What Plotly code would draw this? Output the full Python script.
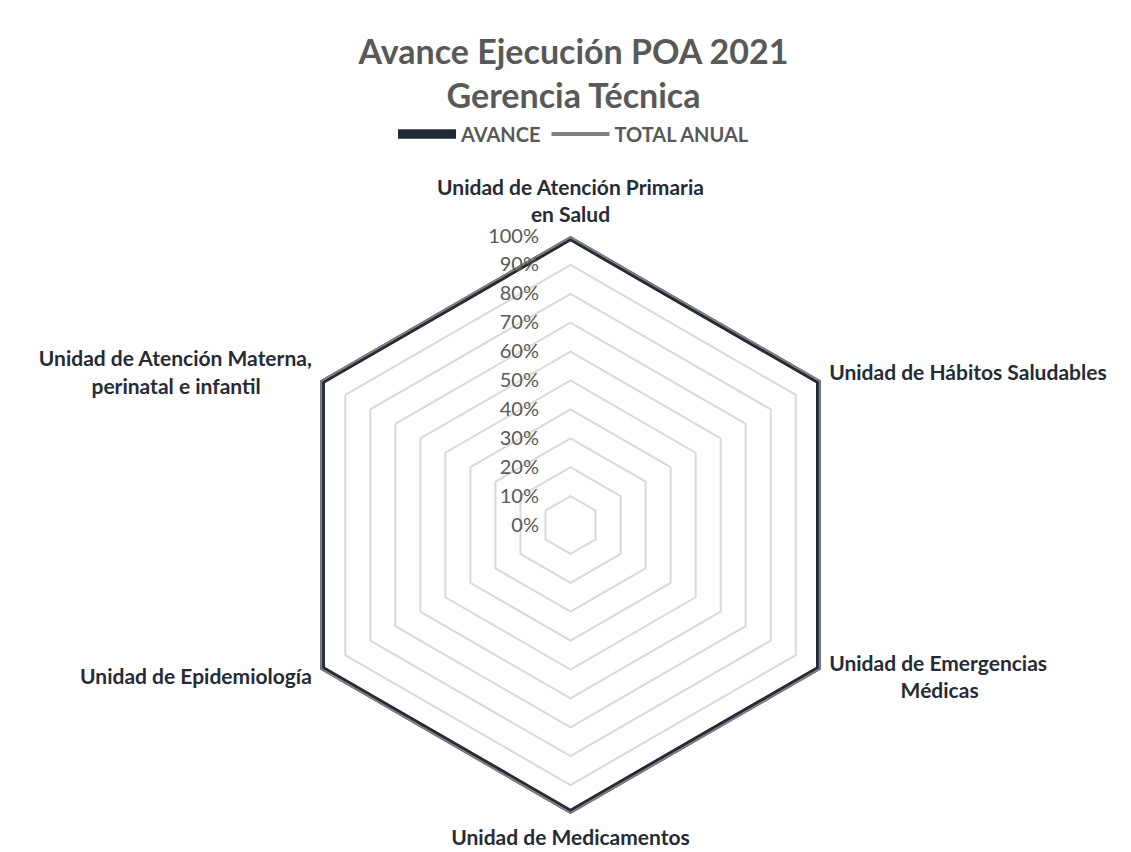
import plotly.graph_objects as go

# categorias del radar (sentido horario desde arriba)
nb = "&nbsp;"
unidades = [
    "Unidad de Atención Primaria<br>en Salud",
    "Unidad de Hábitos Saludables",
    "Unidad de Emergencias<br>" + nb * 14 + "Médicas<br> <br> ",
    "Unidad de Medicamentos",
    "Unidad de Epidemiología<br> ",
    " <br>Unidad de Atención Materna,<br>perinatal e infantil" + nb * 10,
]
avance = [1.0, 1.0, 1.0, 1.0, 1.0, 1.0]
total_anual = [1.0, 1.0, 1.0, 1.0, 1.0, 1.0]

ticks_r = [0, 0.1, 0.2, 0.3, 0.4, 0.5, 0.6, 0.7, 0.8, 0.9, 1.0]
ticks_txt = ["0%", "10%", "20%", "30%", "40%", "50%", "60%", "70%", "80%", "90%", "100%"]

font_fam = "Lato, Open Sans, sans-serif"

fig = go.Figure()
fig.add_trace(go.Scatterpolar(
    r=avance + avance[:1], theta=unidades + unidades[:1],
    mode="lines", name="<b>AVANCE</b>",
    line=dict(color="#222A35", width=9.5),
))
fig.add_trace(go.Scatterpolar(
    r=total_anual + total_anual[:1], theta=unidades + unidades[:1],
    mode="lines", name="<b>TOTAL ANUAL</b>",
    line=dict(color="#7F7F7F", width=4),
))

fig.update_layout(
    width=1131, height=852,
    paper_bgcolor="white", plot_bgcolor="white",
    margin=dict(l=0, r=0, t=0, b=0),
    font=dict(family=font_fam),
    title=dict(
        text="<b>Avance Ejecución POA 2021<br>Gerencia Técnica</b>",
        x=0.5, xanchor="center", y=1 - 56 / 852, yanchor="top",
        font=dict(size=34, color="#595959", family=font_fam),
    ),
    legend=dict(
        orientation="h", x=0.5, xanchor="center", y=1 - 126 / 852, yanchor="middle",
        font=dict(size=20, color="#595959", family=font_fam),
        itemwidth=58,
    ),
    polar=dict(
        domain=dict(x=[273.5 / 1131, 851.5 / 1131],
                    y=[46 / 852, 624 / 852]),
        gridshape="linear",
        bgcolor="white",
        angularaxis=dict(
            direction="clockwise", rotation=90,
            showgrid=False, showline=False,
            ticks="outside", ticklen=5, tickcolor="rgba(0,0,0,0)",
            tickfont=dict(size=21, color="#262B35", family=font_fam, weight="bold"),
        ),
        radialaxis=dict(
            range=[0, 1], angle=90, tickangle=90,
            tickvals=ticks_r, ticktext=ticks_txt,
            showline=False, ticks="outside", ticklen=24, tickcolor="rgba(0,0,0,0)",
            gridcolor="#D9D9D9", gridwidth=1.5,
            tickfont=dict(size=20, color="#595959", family=font_fam),
            side="counterclockwise",
        ),
    ),
)

fig.write_html("out.html")
